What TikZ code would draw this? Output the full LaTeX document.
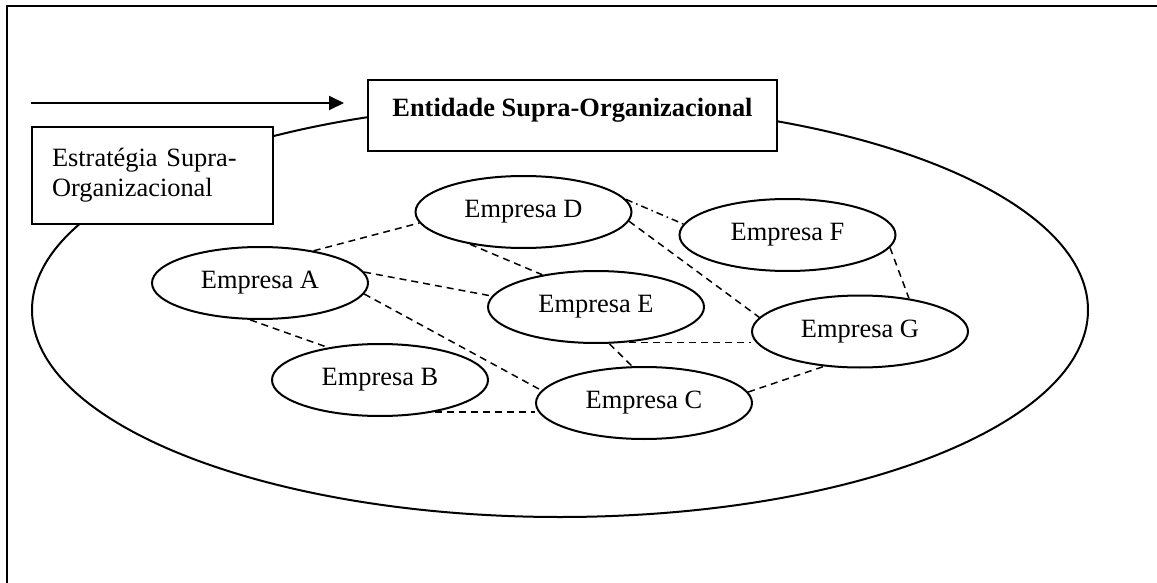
\documentclass[tikz,border=0pt]{standalone}
\usepackage{fontspec}
\setmainfont{Liberation Serif}
\usetikzlibrary{shapes.geometric,arrows.meta}
\begin{document}
\begin{tikzpicture}[x = 0.5pt, y = -0.5pt, font = \fontsize{13.2}{15}\selectfont,
  empresa/.style = {draw = black, line width = 1pt, ellipse, inner sep = 0pt, minimum width = 108pt, minimum height = 36pt, fill = white},
  caixa/.style = {draw = black, line width = 1pt, rectangle, fill = white},
  ligacao/.style = {draw = black, line width = 0.75pt, dash pattern = on 3.5pt off 2.5pt},
  ligacaoponto/.style = {draw = black, line width = 0.75pt, dash pattern = on 3.5pt off 2pt on 0.8pt off 2pt}]
\useasboundingbox (0,0) rectangle (1157,583);
\draw[line width = 1pt] (7,583) -- (7,6) -- (1157,6);
\draw[line width = 1pt] (560,310) ellipse [x radius = 264pt, y radius = 103.5pt];
\node[caixa, minimum width = 204.5pt, inner ysep = 0pt, text height = 18.5pt, text depth = 17pt, font = \fontsize{13.2}{15}\selectfont\bfseries] (entidade) at (572.5,115.5) {Entidade Supra-Organizacional};
\node[caixa, text width = 100.5pt, inner xsep = 10pt, minimum height = 48.5pt, align = left] (estrategia) at (152.5,175.5) {Estratégia Supra-\\Organizacional};
\coordinate (setaini) at (31,103);
\coordinate (setafim) at (344,103);
\draw[line width = 1pt, -{Triangle[length = 7.5pt, width = 7pt]}] (setaini) -- (setafim);
\foreach \nome/\x/\y in {A/260/283, B/380/380, C/644/403, D/523.5/212, E/596/307, F/787.5/235, G/860/331.5}
  \node[empresa] (\nome) at (\x,\y) {Empresa \nome};
\foreach \de/\para in {A.31/D.186, A.6/E.174, A.-6/C.173, A.255/B.148, E.290/C.108, C.6/G.224, D.211/E.149, D.355/G.172, F.353/G.34}
  \draw[ligacao] (\de) -- (\para);
\draw[ligacao] (B.330) -- (B.330 -| C.west);
\draw[ligacao] (E.313) -- (E.313 -| G.west);
\draw[ligacaoponto] (D.7) -- (F.174);
\end{tikzpicture}
\end{document}
